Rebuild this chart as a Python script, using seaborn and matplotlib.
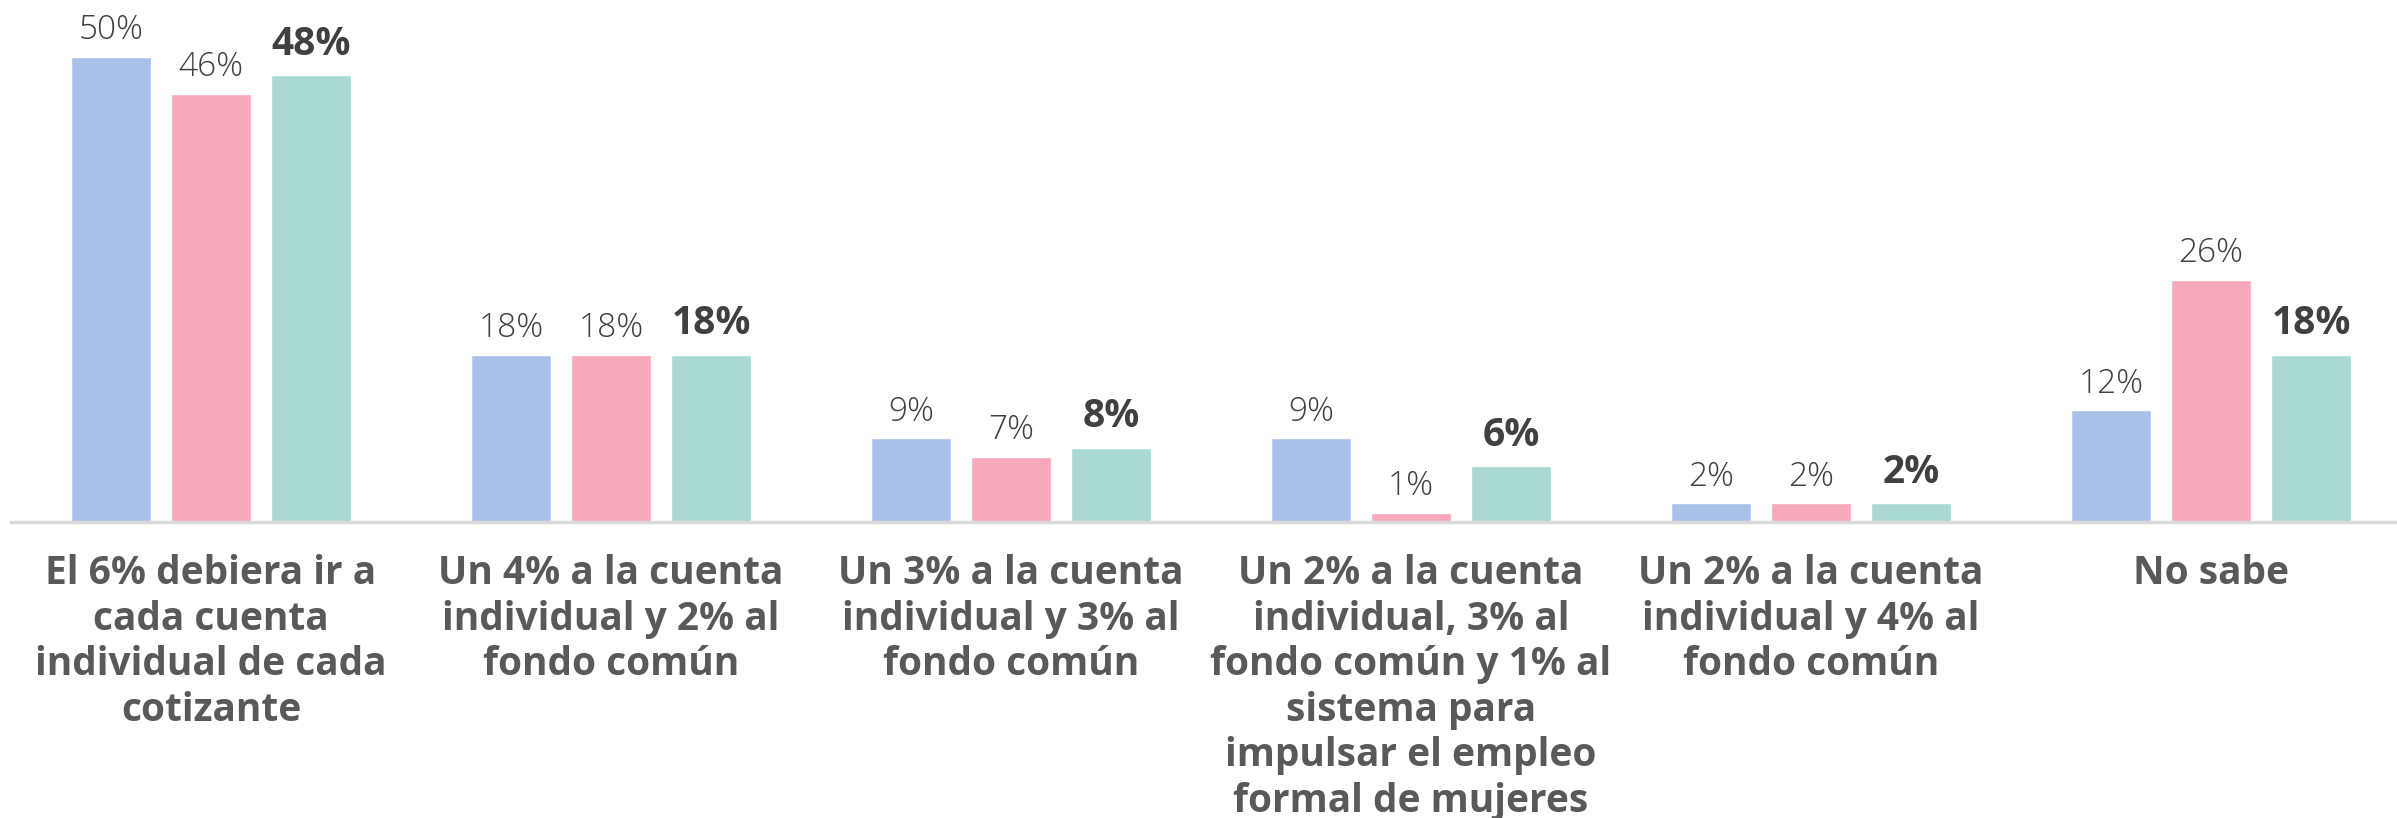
import pandas as pd
import matplotlib
matplotlib.use("Agg")
import matplotlib.pyplot as plt
import seaborn as sns

# Data
categories = [
    "El 6% debiera ir a\ncada cuenta\nindividual de cada\ncotizante",
    "Un 4% a la cuenta\nindividual y 2% al\nfondo común",
    "Un 3% a la cuenta\nindividual y 3% al\nfondo común",
    "Un 2% a la cuenta\nindividual, 3% al\nfondo común y 1% al\nsistema para\nimpulsar el empleo\nformal de mujeres",
    "Un 2% a la cuenta\nindividual y 4% al\nfondo común",
    "No sabe",
]
series_names = ["Grupo 1", "Grupo 2", "Total"]
grupo_1 = [50, 18, 9, 9, 2, 12]
grupo_2 = [46, 18, 7, 1, 2, 26]
total = [48, 18, 8, 6, 2, 18]
colors = ["#A9C1E8", "#F7A8BA", "#A8DAD3"]

# Long format for seaborn
rows = []
for name, vals in zip(series_names, [grupo_1, grupo_2, total]):
    for cat, v in zip(categories, vals):
        rows.append({"categoria": cat, "serie": name, "valor": v})
df = pd.DataFrame(rows)

sns.set_theme(style="white")
plt.rcParams["font.family"] = ["Open Sans", "DejaVu Sans"]

fig = plt.figure(figsize=(23.97, 8.18), dpi=100)
ax = fig.add_axes([11 / 2397, 296 / 818, 1 - 11 / 2397, 522 / 818])

sns.barplot(data=df, x="categoria", y="valor", hue="serie", order=categories,
            hue_order=series_names, palette=colors, width=0.75, gap=0.2,
            saturation=1, legend=False, ax=ax)

# Value labels: regular for the first two series, bold for the total
for i, cont in enumerate(ax.containers):
    bold = i == 2
    ax.bar_label(cont, labels=[f"{v:.0f}%" for v in cont.datavalues],
                 padding=8 if bold else 7, fontsize=28 if bold else 24,
                 fontweight="bold" if bold else "light",
                 color="#404040")

ax.set_xlim(-0.5, -0.5 + 2386 / 400)
ax.set_ylim(0, 56.1)
ax.set_xlabel("")
ax.set_ylabel("")
ax.set_yticks([])
ax.tick_params(axis="x", length=0, pad=23)
for lbl in ax.get_xticklabels():
    lbl.set_fontsize(28)
    lbl.set_fontweight("bold")
    lbl.set_color("#595959")
    lbl.set_linespacing(1.22)
    lbl.set_verticalalignment("top")

for side in ["top", "right", "left"]:
    ax.spines[side].set_visible(False)
ax.spines["bottom"].set_color("#D9D9D9")
ax.spines["bottom"].set_linewidth(2.5)

fig.savefig("out.png", dpi=100)
